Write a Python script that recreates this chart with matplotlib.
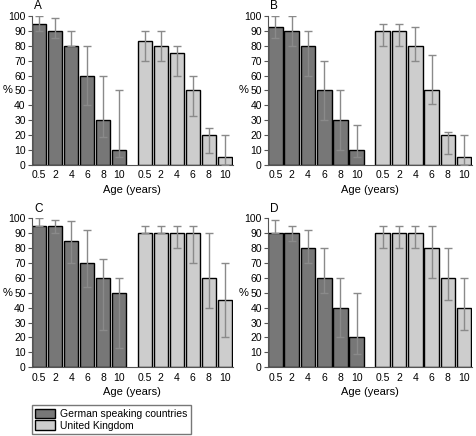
import numpy as np
import matplotlib.pyplot as plt
from matplotlib.patches import Patch

ages = ["0.5", "2", "4", "6", "8", "10"]
panels = ["A", "B", "C", "D"]

# values (%) and error-bar lows/highs per panel
german = {
    "A": [95, 90, 80, 60, 30, 10],
    "B": [93, 90, 80, 50, 30, 10],
    "C": [95, 95, 85, 70, 60, 50],
    "D": [90, 90, 80, 60, 40, 20],
}
german_lo = {
    "A": [90, 85, 80, 40, 19, 5],
    "B": [85, 80, 60, 30, 10, 5],
    "C": [95, 90, 70, 54, 25, 13],
    "D": [90, 85, 70, 50, 20, 9],
}
german_hi = {
    "A": [100, 99, 90, 80, 60, 50],
    "B": [100, 100, 90, 70, 50, 27],
    "C": [100, 99, 98, 92, 73, 60],
    "D": [99, 95, 92, 80, 60, 50],
}
uk = {
    "A": [83, 80, 75, 50, 20, 5],
    "B": [90, 90, 80, 50, 20, 5],
    "C": [90, 90, 90, 90, 60, 45],
    "D": [90, 90, 90, 80, 60, 40],
}
uk_lo = {
    "A": [70, 70, 60, 33, 8, 0],
    "B": [80, 80, 70, 41, 7, 0],
    "C": [90, 90, 80, 70, 40, 20],
    "D": [80, 80, 80, 60, 45, 25],
}
uk_hi = {
    "A": [90, 90, 80, 60, 25, 20],
    "B": [95, 95, 93, 74, 22, 20],
    "C": [95, 95, 95, 95, 90, 70],
    "D": [95, 95, 95, 95, 80, 60],
}

DARK = "#777777"
LIGHT = "#cdcdcd"
ERR = "#8a8a8a"

plt.rcParams["font.family"] = ["Liberation Sans", "DejaVu Sans"]
fig = plt.figure(figsize=(4.77, 4.36), dpi=100)

boxes = {
    "A": [0.067, 0.622, 0.421, 0.341],
    "B": [0.562, 0.622, 0.428, 0.341],
    "C": [0.067, 0.158, 0.421, 0.341],
    "D": [0.562, 0.158, 0.428, 0.341],
}

x_g = np.arange(6)
x_u = np.arange(6) + 6.6

for p in panels:
    ax = fig.add_axes(boxes[p])
    g = np.array(german[p])
    u = np.array(uk[p])
    g_err = [g - np.array(german_lo[p]), np.array(german_hi[p]) - g]
    u_err = [u - np.array(uk_lo[p]), np.array(uk_hi[p]) - u]
    ax.bar(x_g, g, width=0.9, color=DARK, edgecolor="black", linewidth=1, zorder=2)
    ax.bar(x_u, u, width=0.9, color=LIGHT, edgecolor="black", linewidth=1, zorder=2)
    ax.errorbar(x_g, g, yerr=g_err, fmt="none", ecolor=ERR, elinewidth=1,
                capsize=3, capthick=1, zorder=3)
    ax.errorbar(x_u, u, yerr=u_err, fmt="none", ecolor=ERR, elinewidth=1,
                capsize=3, capthick=1, zorder=3)
    ax.set_xlim(-0.45, 12.1)
    ax.set_ylim(0, 100)
    ax.set_yticks(range(0, 101, 10))
    ax.set_xticks(np.concatenate([x_g, x_u]))
    ax.set_xticklabels(ages + ages)
    ax.tick_params(axis="x", length=0, pad=4, labelsize=7.5)
    ax.tick_params(axis="y", length=3, pad=1.5, labelsize=7.5, color="#555555")
    for s in ["top", "right"]:
        ax.spines[s].set_visible(False)
    for s in ["left", "bottom"]:
        ax.spines[s].set_color("#555555")
    ax.set_xlabel("Age (years)", fontsize=8, labelpad=3)
    ax.set_ylabel("%", fontsize=8, rotation=0, va="center", ha="center")
    ax.yaxis.set_label_coords(-0.12, 0.5)
    ax.text(0.01, 1.065, p, transform=ax.transAxes, fontsize=8.5, ha="left", va="center")

handles = [
    Patch(facecolor=DARK, edgecolor="black", label="German speaking countries"),
    Patch(facecolor=LIGHT, edgecolor="black", label="United Kingdom"),
]
fig.legend(handles=handles, loc="lower left", bbox_to_anchor=(0.065, 0.003),
           fontsize=7.5, frameon=True, fancybox=False, edgecolor="#555555",
           handlelength=1.9, handleheight=1.0, handletextpad=0.5,
           labelspacing=0.15, borderpad=0.3, borderaxespad=0.1)

fig.savefig("out.png", dpi=100)
